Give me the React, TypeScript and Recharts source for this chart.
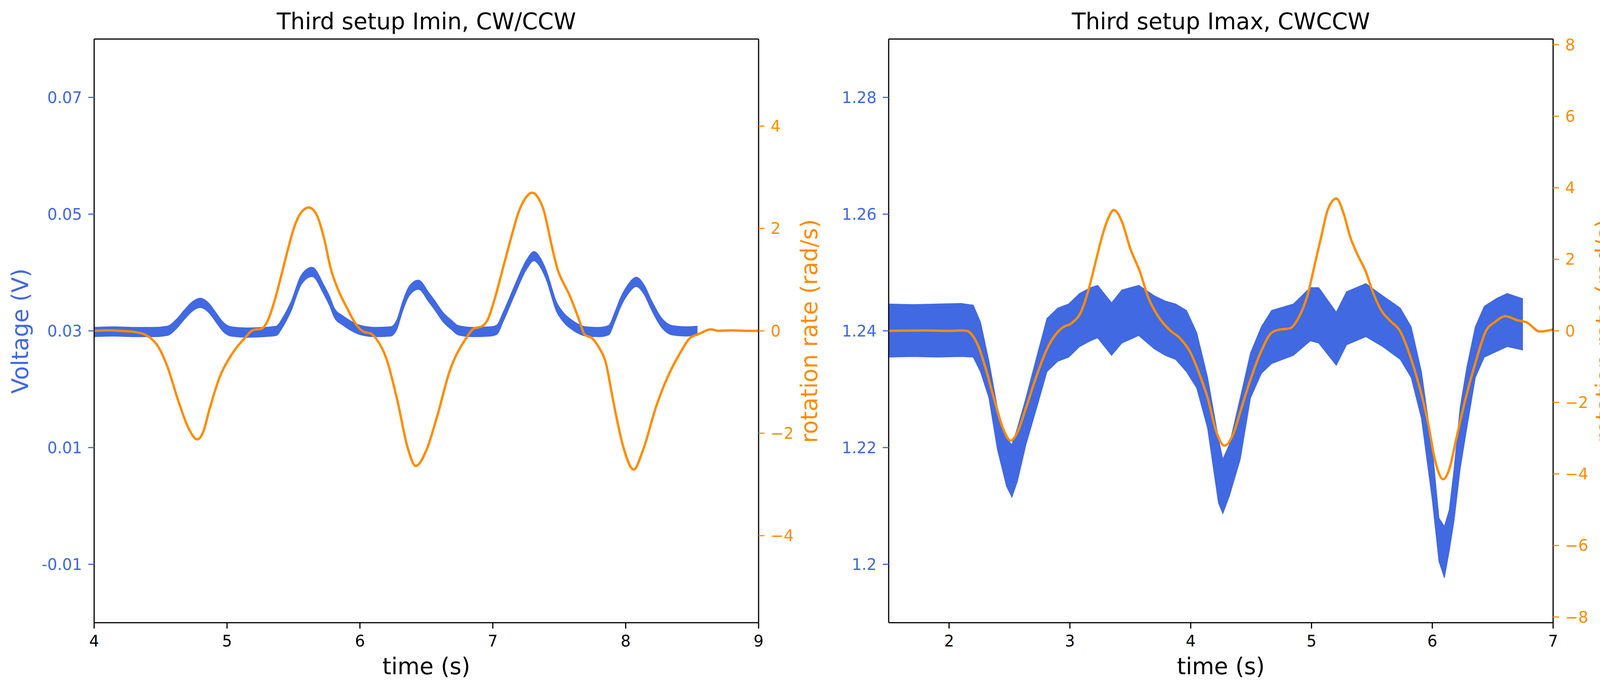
import { ComposedChart, Area, Line, XAxis, YAxis, ReferenceLine } from 'recharts'

const BLUE = '#4169E1'
const ORANGE = '#FF8C00'
const FONT = 'DejaVu Sans'

// ---- left panel: Imin, CW/CCW ----
const leftBandTime = [4.0, 4.15, 4.3, 4.45, 4.55, 4.62, 4.68, 4.74, 4.8, 4.86, 4.92, 4.97, 5.03, 5.15, 5.28, 5.37, 5.42, 5.48, 5.56, 5.64, 5.73, 5.77, 5.81, 5.87, 5.93, 6.01, 6.12, 6.23, 6.28, 6.32, 6.37, 6.44, 6.52, 6.575, 6.62, 6.69, 6.74, 6.85, 6.98, 7.03, 7.08, 7.165, 7.25, 7.31, 7.355, 7.4, 7.48, 7.54, 7.585, 7.64, 7.7, 7.8, 7.87, 7.92, 7.96, 8.02, 8.08, 8.14, 8.19, 8.27, 8.35, 8.45, 8.54]
const leftBandLow = [0.029, 0.0291, 0.029, 0.029, 0.0292, 0.0304, 0.032, 0.0334, 0.034, 0.0332, 0.0314, 0.0299, 0.0291, 0.0289, 0.029, 0.0292, 0.0307, 0.0333, 0.038, 0.0393, 0.0362, 0.0344, 0.0322, 0.031, 0.0301, 0.0293, 0.029, 0.0291, 0.0304, 0.0333, 0.036, 0.0371, 0.0349, 0.0332, 0.0317, 0.0302, 0.0293, 0.029, 0.0291, 0.0294, 0.0317, 0.0362, 0.0404, 0.042, 0.041, 0.0389, 0.0333, 0.0313, 0.0304, 0.0296, 0.0291, 0.029, 0.0293, 0.0317, 0.034, 0.0364, 0.0376, 0.0362, 0.0338, 0.0306, 0.0293, 0.0291, 0.0292]
const leftBandHigh = [0.0306, 0.0307, 0.0306, 0.0306, 0.0308, 0.032, 0.0336, 0.035, 0.0356, 0.0348, 0.033, 0.0315, 0.0307, 0.0305, 0.0306, 0.0308, 0.0323, 0.0349, 0.0396, 0.0409, 0.0378, 0.036, 0.0338, 0.0326, 0.0317, 0.0309, 0.0306, 0.0307, 0.032, 0.0349, 0.0376, 0.0387, 0.0365, 0.0348, 0.0333, 0.0318, 0.0309, 0.0306, 0.0307, 0.031, 0.0333, 0.0378, 0.042, 0.0436, 0.0426, 0.0405, 0.0349, 0.0329, 0.032, 0.0312, 0.0307, 0.0306, 0.0309, 0.0333, 0.0356, 0.038, 0.0392, 0.0378, 0.0354, 0.0322, 0.0309, 0.0307, 0.0308]
const leftRateTime = [4.0, 4.1, 4.2, 4.3, 4.37, 4.43, 4.48, 4.55, 4.63, 4.71, 4.776, 4.82, 4.866, 4.945, 5.03, 5.13, 5.2, 5.258, 5.308, 5.358, 5.41, 5.46, 5.51, 5.56, 5.615, 5.67, 5.73, 5.78, 5.83, 5.9, 5.97, 6.03, 6.08, 6.13, 6.2, 6.28, 6.36, 6.42, 6.5, 6.58, 6.68, 6.72, 6.79, 6.86, 6.91, 6.96, 7.01, 7.084, 7.142, 7.19, 7.24, 7.297, 7.348, 7.387, 7.416, 7.446, 7.485, 7.534, 7.573, 7.65, 7.69, 7.75, 7.8, 7.85, 7.9, 7.98, 8.06, 8.13, 8.23, 8.33, 8.41, 8.48, 8.56, 8.64, 8.7, 8.8, 8.9, 9.0]
const leftRate = [0, 0.01, 0, -0.02, -0.06, -0.15, -0.3, -0.69, -1.34, -1.9, -2.12, -1.98, -1.55, -0.9, -0.48, -0.15, 0.02, 0.04, 0.21, 0.59, 1.1, 1.61, 2.06, 2.32, 2.41, 2.29, 1.81, 1.22, 0.84, 0.46, 0.13, -0.02, -0.05, -0.18, -0.55, -1.34, -2.29, -2.64, -2.33, -1.68, -0.75, -0.5, -0.18, 0.05, 0.08, 0.21, 0.59, 1.3, 1.86, 2.29, 2.57, 2.7, 2.57, 2.32, 1.99, 1.63, 1.22, 0.92, 0.72, 0.21, -0.07, -0.15, -0.33, -0.62, -1.29, -2.25, -2.71, -2.33, -1.47, -0.82, -0.43, -0.15, -0.05, 0.03, 0, 0.01, 0, 0]
const leftTimeTicks = [4, 5, 6, 7, 8, 9]
const leftVoltTicks = [-0.01, 0.01, 0.03, 0.05, 0.07]
const leftVoltLabels = ['-0.01', '0.01', '0.03', '0.05', '0.07']
const leftRateTicks = [-4, -2, 0, 2, 4]

// ---- right panel: Imax, CWCCW ----
const rightBandTime = [1.5, 1.7, 1.9, 2.1, 2.2, 2.26, 2.33, 2.4, 2.475, 2.52, 2.565, 2.636, 2.725, 2.81, 2.9, 2.99, 3.08, 3.17, 3.23, 3.345, 3.43, 3.57, 3.7, 3.79, 3.876, 3.965, 4.05, 4.14, 4.23, 4.266, 4.32, 4.41, 4.495, 4.585, 4.67, 4.85, 4.99, 5.06, 5.205, 5.29, 5.45, 5.59, 5.735, 5.825, 5.91, 6.0, 6.055, 6.1, 6.14, 6.18, 6.23, 6.285, 6.356, 6.43, 6.535, 6.62, 6.75]
const rightBandLow = [1.2355, 1.2356, 1.2355, 1.2356, 1.2355, 1.233, 1.2285, 1.2197, 1.2134, 1.2115, 1.2142, 1.2205, 1.2268, 1.233, 1.2348, 1.2355, 1.2373, 1.2383, 1.2388, 1.2358, 1.2379, 1.2392, 1.2369, 1.2358, 1.2351, 1.233, 1.2302, 1.2233, 1.2105, 1.2087, 1.2117, 1.218, 1.2285, 1.2327, 1.2344, 1.2358, 1.2383, 1.2379, 1.2341, 1.2376, 1.239, 1.2373, 1.2351, 1.232, 1.225, 1.211, 1.2005, 1.1977, 1.2023, 1.2075, 1.2163, 1.2233, 1.232, 1.2355, 1.2365, 1.2373, 1.2367]
const rightBandHigh = [1.2446, 1.2445, 1.2446, 1.2447, 1.2444, 1.2415, 1.2348, 1.2268, 1.2215, 1.2205, 1.2233, 1.2285, 1.2355, 1.2421, 1.2439, 1.2446, 1.2464, 1.2474, 1.2478, 1.2448, 1.247, 1.2478, 1.246, 1.2451, 1.2446, 1.2435, 1.2397, 1.232, 1.2215, 1.218, 1.2205, 1.2285, 1.2362, 1.2407, 1.2435, 1.2446, 1.2474, 1.2474, 1.2432, 1.2467, 1.2481, 1.246, 1.2439, 1.2407, 1.233, 1.2198, 1.2079, 1.2065, 1.2093, 1.2163, 1.2268, 1.2337, 1.2407, 1.2442, 1.2456, 1.2464, 1.2455]
const rightRateTime = [1.5, 1.8, 2.0, 2.1, 2.15, 2.19, 2.245, 2.3, 2.37, 2.44, 2.51, 2.565, 2.636, 2.725, 2.81, 2.88, 2.938, 3.02, 3.096, 3.15, 3.206, 3.26, 3.32, 3.364, 3.43, 3.5, 3.58, 3.65, 3.73, 3.83, 3.91, 4.0, 4.07, 4.14, 4.21, 4.28, 4.35, 4.42, 4.495, 4.585, 4.67, 4.728, 4.82, 4.895, 4.97, 5.025, 5.08, 5.135, 5.206, 5.266, 5.32, 5.377, 5.45, 5.506, 5.58, 5.655, 5.73, 5.825, 5.896, 5.967, 6.02, 6.09, 6.14, 6.195, 6.265, 6.356, 6.446, 6.516, 6.605, 6.71, 6.78, 6.89, 7.0]
const rightRate = [0, 0.01, 0, 0.01, 0, -0.11, -0.45, -1.02, -1.87, -2.67, -3.07, -2.84, -2.16, -1.25, -0.51, -0.11, 0.09, 0.23, 0.56, 1.1, 1.83, 2.56, 3.17, 3.38, 3.06, 2.3, 1.65, 0.92, 0.41, 0.01, -0.2, -0.62, -1.19, -1.87, -2.8, -3.21, -2.9, -2.16, -1.36, -0.56, -0.05, 0.03, 0.07, 0.38, 1.03, 1.83, 2.63, 3.39, 3.7, 3.28, 2.63, 2.16, 1.65, 1.1, 0.56, 0.27, 0.01, -0.79, -1.59, -2.61, -3.58, -4.15, -3.87, -3.07, -2.04, -0.9, 0.01, 0.24, 0.41, 0.29, 0.24, -0.02, 0.04]
const rightTimeTicks = [2, 3, 4, 5, 6, 7]
const rightVoltTicks = [1.2, 1.22, 1.24, 1.26, 1.28]
const rightVoltLabels = ['1.2', '1.22', '1.24', '1.26', '1.28']
const rightRateTicks = [-8, -6, -4, -2, 0, 2, 4, 6, 8]

const bandRows = (t: number[], lo: number[], hi: number[]) =>
  t.map((x, i) => ({ t: x, band: [lo[i], hi[i]] }))
const rateRows = (t: number[], v: number[]) => t.map((x, i) => ({ t: x, rate: v[i] }))

const withMinus = (v: number) => (v < 0 ? '\u2212' + Math.abs(v) : String(v))

const tickFont = { fontSize: 40, fontFamily: FONT }

function Panel(props: any) {
  const {
    left, width, leftAxisWidth, rightAxisWidth, xDomain, xTicks,
    vDomain, vTicks, vLabels, rDomain, rTicks, band, rate, bandCurve, bandStroke,
  } = props
  return (
    <div style={{ position: 'absolute', left, top: 0 }}>
      <ComposedChart width={width} height={1770} margin={{ top: 100, right: 0, bottom: 0, left: 0 }}>
        <XAxis
          dataKey="t"
          type="number"
          domain={xDomain}
          ticks={xTicks}
          allowDataOverflow
          interval={0}
          height={175}
          tickSize={15}
          tickMargin={18}
          axisLine={{ stroke: '#000', strokeWidth: 3 }}
          tickLine={{ stroke: '#000', strokeWidth: 3 }}
          tick={{ ...tickFont, fill: '#000' }}
        />
        <YAxis
          yAxisId="v"
          orientation="left"
          type="number"
          width={leftAxisWidth}
          domain={vDomain}
          ticks={vTicks}
          allowDataOverflow
          interval={0}
          tickSize={15}
          tickMargin={16}
          tickFormatter={(v: number) => vLabels[vTicks.indexOf(v)]}
          axisLine={{ stroke: '#000', strokeWidth: 3 }}
          tickLine={{ stroke: BLUE, strokeWidth: 3 }}
          tick={{ ...tickFont, fill: BLUE }}
        />
        <YAxis
          yAxisId="r"
          orientation="right"
          type="number"
          width={rightAxisWidth}
          domain={rDomain}
          ticks={rTicks}
          allowDataOverflow
          interval={0}
          tickSize={15}
          tickMargin={16}
          tickFormatter={withMinus}
          axisLine={{ stroke: '#000', strokeWidth: 3 }}
          tickLine={{ stroke: ORANGE, strokeWidth: 3 }}
          tick={{ ...tickFont, fill: ORANGE }}
        />
        <Area
          yAxisId="v"
          data={band}
          dataKey="band"
          type={bandCurve}
          stroke={BLUE}
          strokeWidth={bandStroke}
          fill={BLUE}
          fillOpacity={1}
          dot={false}
          activeDot={false}
          isAnimationActive={false}
        />
        <Line
          yAxisId="r"
          data={rate}
          dataKey="rate"
          type="monotone"
          stroke={ORANGE}
          strokeWidth={6}
          dot={false}
          activeDot={false}
          isAnimationActive={false}
        />
        <ReferenceLine yAxisId="v" y={vDomain[1]} stroke="#000" strokeWidth={3} />
      </ComposedChart>
    </div>
  )
}

// rotated axis title, x is the text baseline
function SideLabel({ x, y, color, text }: { x: number; y: number; color: string; text: string }) {
  return (
    <g transform={`translate(${x} ${y}) rotate(-90)`}>
      <text x={0} y={0} fontSize={58} textAnchor="middle" fill={color}>{text}</text>
    </g>
  )
}

export default function App() {
  return (
    <div style={{ position: 'absolute', left: 0, top: 0, width: 4170, height: 1770, background: '#fff', overflow: 'hidden' }}>
      <Panel
        left={0}
        width={2110}
        leftAxisWidth={241}
        rightAxisWidth={168}
        xDomain={[4, 9]}
        xTicks={leftTimeTicks}
        vDomain={[-0.02, 0.08]}
        vTicks={leftVoltTicks}
        vLabels={leftVoltLabels}
        rDomain={[-5.7, 5.7]}
        rTicks={leftRateTicks}
        band={bandRows(leftBandTime, leftBandLow, leftBandHigh)}
        rate={rateRows(leftRateTime, leftRate)}
        bandCurve="monotone"
        bandStroke={2}
      />
      <Panel
        left={2110}
        width={2060}
        leftAxisWidth={165}
        rightAxisWidth={194}
        xDomain={[1.5, 7]}
        xTicks={rightTimeTicks}
        vDomain={[1.19, 1.29]}
        vTicks={rightVoltTicks}
        vLabels={rightVoltLabels}
        rDomain={[-8.16, 8.16]}
        rTicks={rightRateTicks}
        band={bandRows(rightBandTime, rightBandLow, rightBandHigh)}
        rate={rateRows(rightRateTime, rightRate)}
        bandCurve="linear"
        bandStroke={2}
      />
      <svg
        width={4170}
        height={1770}
        style={{ position: 'absolute', left: 0, top: 0, pointerEvents: 'none' }}
        fontFamily={FONT}
      >
        <text x={1091.5} y={75} fontSize={58} textAnchor="middle" fill="#000">Third setup Imin, CW/CCW</text>
        <text x={3125.5} y={75} fontSize={58} textAnchor="middle" fill="#000">Third setup Imax, CWCCW</text>
        <text x={1091.5} y={1727} fontSize={58} textAnchor="middle" fill="#000">time (s)</text>
        <text x={3125.5} y={1727} fontSize={58} textAnchor="middle" fill="#000">time (s)</text>
        <SideLabel x={72} y={848} color={BLUE} text="Voltage (V)" />
        <SideLabel x={2092} y={848} color={ORANGE} text="rotation rate (rad/s)" />
        <SideLabel x={4127} y={848} color={ORANGE} text="rotation rate (rad/s)" />
      </svg>
    </div>
  )
}
